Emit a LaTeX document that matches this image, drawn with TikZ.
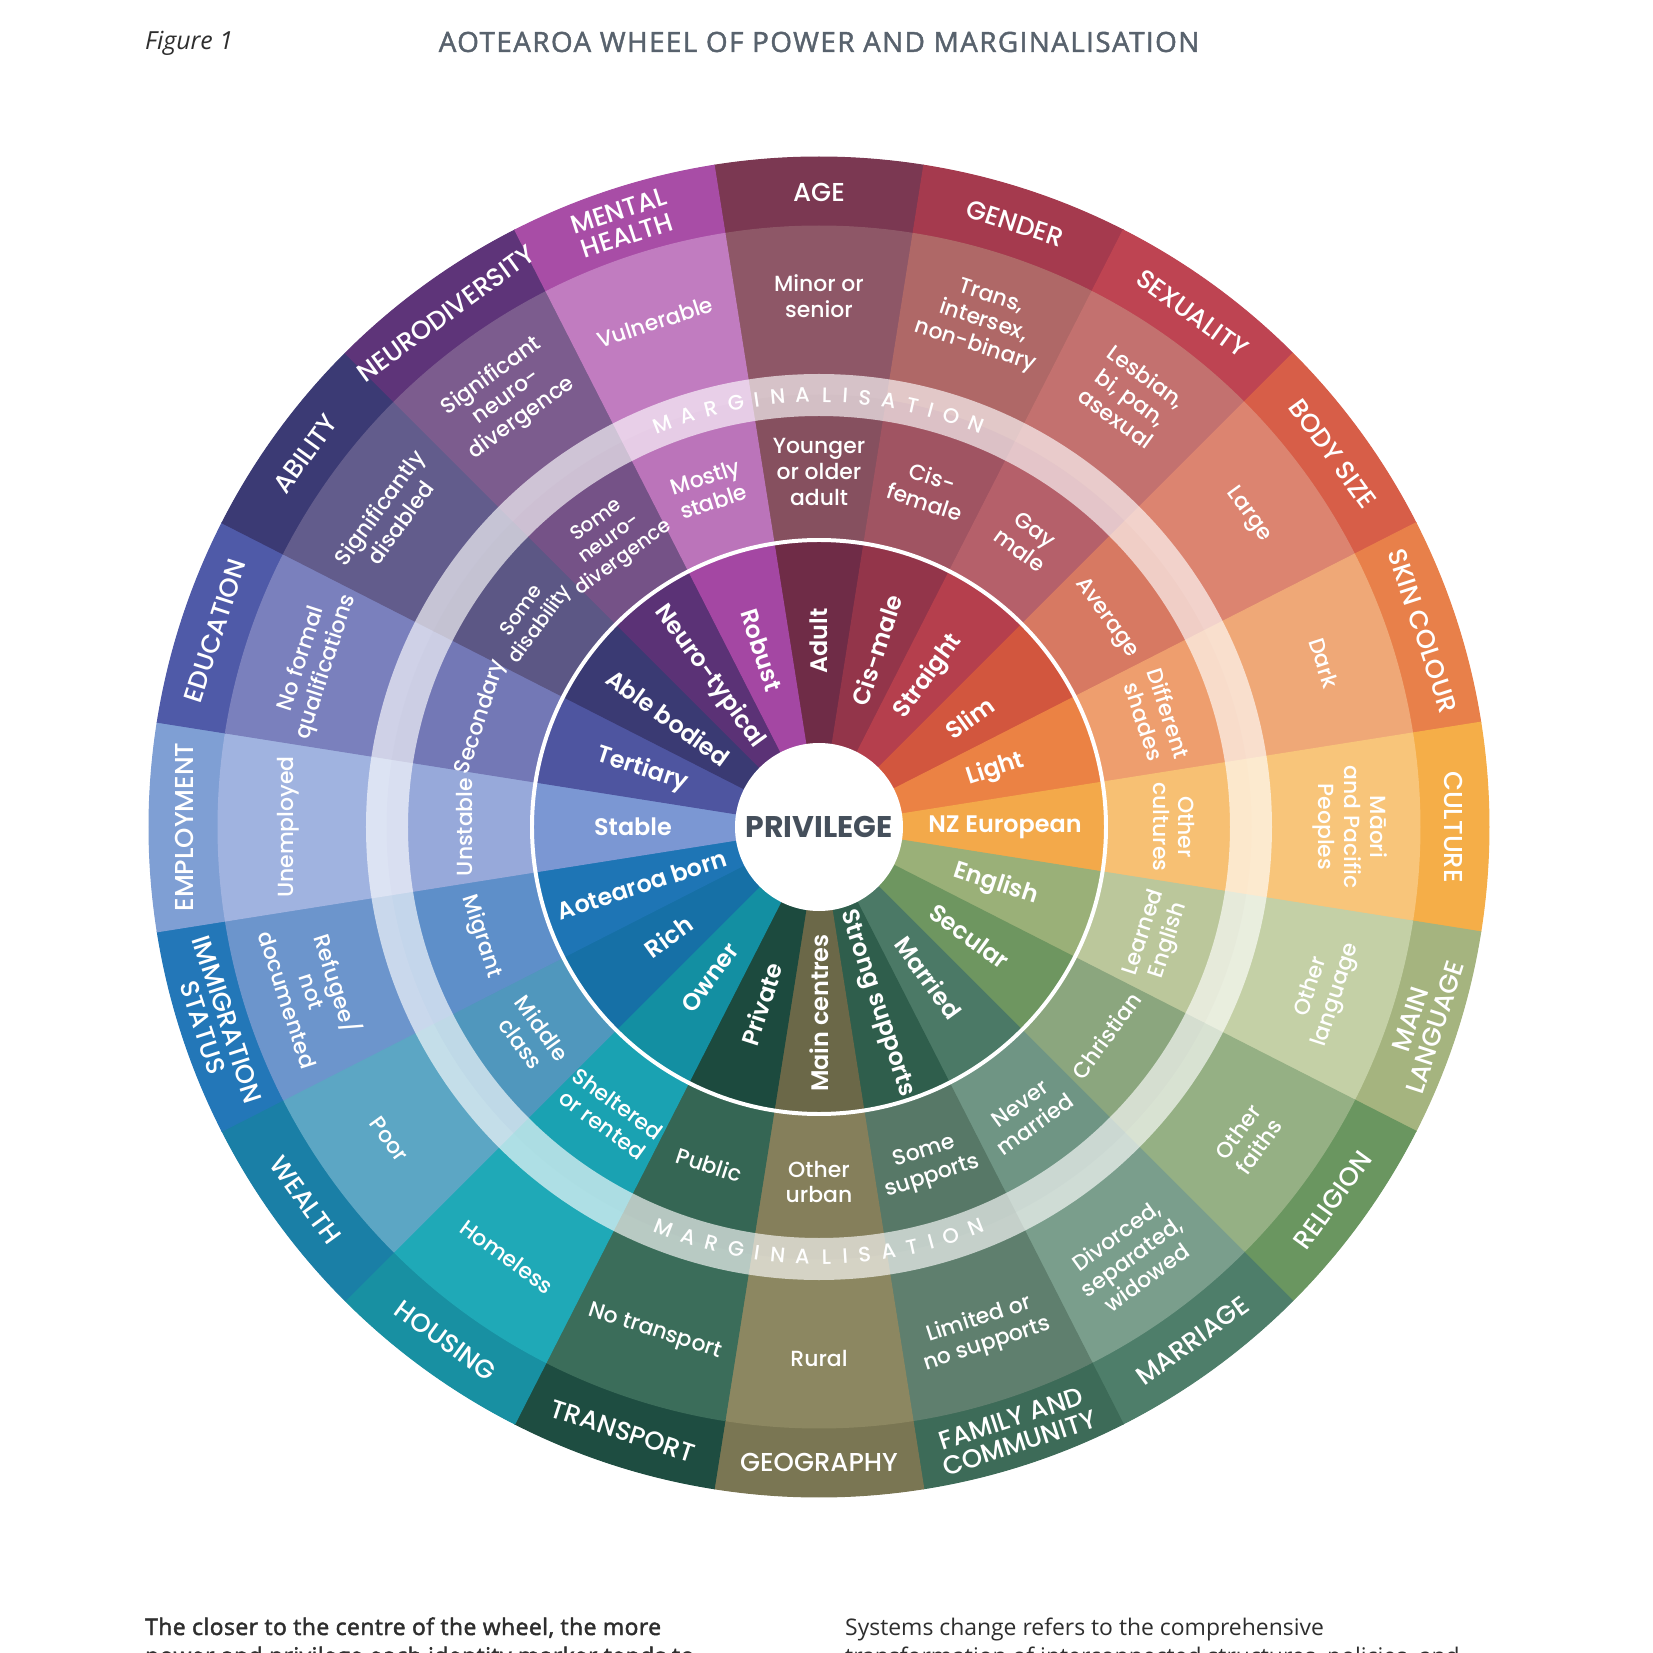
\documentclass[tikz,border=0pt]{standalone}
\usepackage{fontspec}
\setmainfont{Open Sans}
\newfontfamily\wf{Poppins}[UprightFont=* Medium, BoldFont=* SemiBold]
\newfontfamily\pf{Poppins}[UprightFont=* SemiBold, BoldFont=* Bold]
\pgfdeclarelayer{sectors}
\pgfdeclarelayer{band}
\pgfsetlayers{sectors,band,main}
\definecolor{privc}{HTML}{454F5B}
\definecolor{titlec}{HTML}{58626D}
\definecolor{bodyc}{HTML}{2E2E2E}
\tikzset{
  catlab/.style={text=white, font=\wf\fontsize{26}{26}\selectfont, align=center, inner sep=0pt},
  vallab/.style={text=white, font=\wf\fontsize{22}{26}\selectfont, align=center, inner sep=0pt},
  smalllab/.style={font=\wf\fontsize{20}{23}\selectfont},
  innlab/.style={text=white, font=\pf\fontsize{24}{26}\selectfont, align=center, inner sep=0pt},
  mglet/.style={text=white, font=\wf\fontsize{21}{21}\selectfont, inner sep=0pt},
  bodytxt/.style={text=bodyc, font=\fontsize{23}{28}\selectfont, inner sep=0pt, anchor=base west},
}
\newcommand\wring[3]{\fill[#1,draw=#1,line width=1] (\wa:#2) -- (\wa:#3) arc[start angle=\wa,end angle=\wb,radius=#3] -- (\wb:#2) arc[start angle=\wb,end angle=\wa,radius=#2] -- cycle;}
\newcommand\midstyle{}
\newcommand\wseg[9]{%
  \pgfmathsetmacro\wang{90-18*#1}%
  \pgfmathsetmacro\wang{\wang<=-180 ? \wang+360 : \wang}%
  \pgfmathsetmacro\wrt{\wang>=0 ? \wang-90 : \wang+90}%
  \pgfmathsetmacro\wrr{and(\wang>=-72,\wang<=90) ? \wang : \wang+180}%
  \pgfmathsetmacro\wa{\wang-9}\pgfmathsetmacro\wb{\wang+9}%
  \definecolor{wl#1}{HTML}{#2}\definecolor{wo#1}{HTML}{#3}\definecolor{wm#1}{HTML}{#4}\definecolor{wi#1}{HTML}{#5}%
  \begin{pgfonlayer}{sectors}
    \wring{wl#1}{601}{670}%
    \wring{wo#1}{432}{601}%
    \wring{wm#1}{287}{432}%
    \fill[wi#1,draw=wi#1,line width=1] (0,0) -- (\wa:287) arc[start angle=\wa,end angle=\wb,radius=287] -- cycle;
  \end{pgfonlayer}
  \node[catlab,rotate=\wrt] (cat#1) at (\wang:635) {#6};
  \node[vallab,rotate=\wrt] (out#1) at (\wang:531) {#7};
  \node[vallab,rotate=\wrt,\midstyle] (mid#1) at (\wang:355) {#8};
  \node[innlab,rotate=\wrr] (inn#1) at (\wang:186) {#9};
}
\begin{document}
\begin{tikzpicture}[x=1bp,y=1bp]
\useasboundingbox (-819,-826) rectangle (834,827);
\begin{pgfonlayer}{sectors}\fill[white] (-819,-826) rectangle (834,827);\end{pgfonlayer}
\wseg{0}{7B3852}{8E5767}{86505F}{6F2C47}{AGE}{Minor or\\senior}{Younger\\or older\\adult}{Adult}
\wseg{1}{A53A4E}{AF6867}{A05462}{93354A}{GENDER}{Trans,\\intersex,\\non-binary}{Cis-\\female}{Cis-male}
\wseg{2}{BE4452}{C3716F}{B5606A}{B53F4D}{SEXUALITY}{Lesbian,\\bi, pan,\\asexual}{Gay\\male}{Straight}
\wseg{3}{D75E48}{DC8470}{D77962}{D2563E}{BODY SIZE}{Large}{Average}{Slim}
\wseg{4}{E8804A}{EFA877}{EE9E6E}{EB8244}{SKIN COLOUR}{Dark}{Different\\shades}{Light}
\wseg{5}{F5AE48}{F8C57A}{F7C073}{F3A94A}{CULTURE}{Māori\\and Pacific\\Peoples}{Other\\cultures}{NZ European}
\wseg{6}{A5B47F}{C4D0A6}{BBC79B}{9AB078}{MAIN\\LANGUAGE}{Other\\language}{Learned\\English}{English}
\wseg{7}{6A9660}{95B084}{8BA67E}{6E9660}{RELIGION}{Other\\faiths}{Christian}{Secular}
\wseg{8}{4E7E6A}{7A9E8C}{6F9584}{4B7966}{MARRIAGE}{Divorced,\\separated,\\widowed}{Never\\married}{Married}
\wseg{9}{3D6B58}{5F7F6E}{577867}{2F5E4C}{FAMILY AND\\COMMUNITY}{Limited or\\no supports}{Some\\supports}{Strong supports}
\wseg{10}{7A7653}{8C8761}{857F5B}{6B6848}{GEOGRAPHY}{Rural}{Other\\urban}{Main centres}
\wseg{11}{1E4D41}{3B6D5A}{356654}{1C4A3E}{TRANSPORT}{No transport}{Public}{Private}
\wseg{12}{1890A2}{1FA9B7}{1AA2B2}{138FA2}{HOUSING}{Homeless}{Sheltered\\or rented}{Owner}
\wseg{13}{1A7FA6}{5CA6C4}{5097BD}{1670A6}{WEALTH}{Poor}{Middle\\class}{Rich}
\wseg{14}{2377B8}{6C95CC}{5E8FC9}{1E75B5}{IMMIGRATION\\STATUS}{Refugee/\\not\\documented}{Migrant}{Aotearoa born}
\wseg{15}{7F9FD4}{A0B3E0}{97A9DA}{7B97D3}{EMPLOYMENT}{Unemployed}{Unstable}{Stable}
\wseg{16}{4F5AA8}{7A80BD}{7378B6}{4E55A0}{EDUCATION}{No formal\\qualifications}{Secondary}{Tertiary}
\renewcommand\midstyle{smalllab}
\wseg{17}{3B3A74}{625C8C}{5C5785}{3A3A73}{ABILITY}{Significantly\\disabled}{Some\\disability}{Able bodied}
\wseg{18}{5E3479}{7C5C8E}{755287}{5B3276}{NEURODIVERSITY}{Significant\\neuro-\\divergence}{Some\\neuro-\\divergence}{Neuro-typical}
\renewcommand\midstyle{}
\wseg{19}{A84DA6}{C17CC0}{BB74BA}{A447A3}{MENTAL\\HEALTH}{Vulnerable}{Mostly\\stable}{Robust}
\begin{pgfonlayer}{band}
  \fill[white,opacity=0.64,even odd rule] (0,0) circle[radius=453] (0,0) circle[radius=411];
  \draw[white,line width=4] (0,0) circle[radius=287];
  \fill[white] (0,0) circle[radius=84];
\end{pgfonlayer}
\node[text=privc, font=\pf\bfseries\fontsize{30}{30}\selectfont, inner sep=0pt] (priv) at (0,0) {PRIVILEGE};
\foreach \mch/\off [count=\k] in {M/-21.2,A/-17.7,R/-14.4,G/-11.1,I/-8.3,N/-5.5,A/-2.2,L/1.0,I/3.5,S/6.1,A/9.3,T/12.5,I/15.1,O/17.9,N/21.4}{
  \pgfmathsetmacro\la{90-\off}
  \node[mglet,rotate=\la-90] (mgt\k) at (\la:432) {\mch};
  \pgfmathsetmacro\lb{-90+\off}
  \node[mglet,rotate=\lb+90] (mgb\k) at (\lb:430) {\mch};
}
\node[text=titlec, font=\fontsize{28}{28}\selectfont\addfontfeature{LetterSpace=5,FakeBold=1.6}, inner sep=0pt] (title) at (0,785) {AOTEAROA WHEEL OF POWER AND MARGINALISATION};
\node[text=bodyc, font=\itshape\fontsize{25}{25}\selectfont, inner sep=0pt, anchor=west] (fig) at (-674,784) {Figure 1};
\begin{scope}
  \clip (-819,-826) rectangle (834,827);
  \node[bodytxt, font=\fontsize{23}{28}\selectfont\addfontfeature{LetterSpace=2,FakeBold=2}] (l1) at (-674,-808) {The closer to the centre of the wheel, the more};
  \node[bodytxt, font=\fontsize{23}{28}\selectfont\addfontfeature{LetterSpace=2,FakeBold=2}] (l2) at (-674,-837) {power and privilege each identity marker tends to};
  \node[bodytxt] (r1) at (26,-808) {Systems change refers to the comprehensive};
  \node[bodytxt] (r2) at (26,-837) {transformation of interconnected structures, policies, and};
\end{scope}
\end{tikzpicture}
\end{document}
